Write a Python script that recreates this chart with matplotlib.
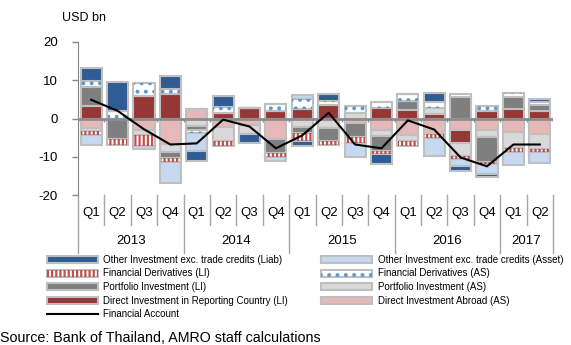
import numpy as np
import matplotlib
matplotlib.use("Agg")
import matplotlib.pyplot as plt
from matplotlib.patches import Patch
from matplotlib.lines import Line2D
from matplotlib.legend_handler import HandlerTuple
import matplotlib.transforms as mtransforms

plt.rcParams['font.family'] = ['Liberation Sans', 'DejaVu Sans']
plt.rcParams['hatch.linewidth'] = 1.6
plt.rcParams['axes.unicode_minus'] = False

quarters = ["Q1", "Q2", "Q3", "Q4"] * 4 + ["Q1", "Q2"]
years = ["2013", "2014", "2015", "2016", "2017"]
year_spans = [4, 4, 4, 4, 2]

# Components of the financial account, USD bn
di_as = [-2.4, 0.0, -3.0, -6.6, 2.6, -2.2, -1.8, -5.4, 0.0, 0.0, -1.2, -3.0, -4.4, -4.0, -2.9, -2.9, -3.4, -4.0]
di_li = [3.2, 0.0, 5.9, 6.3, 0.0, 1.5, 2.7, 1.9, 2.6, 3.5, 0.0, 2.8, 2.3, 1.3, -3.6, 1.9, 2.6, 2.0]
pi_as = [-0.9, 0.0, -1.2, -2.2, -2.0, -3.6, -2.3, 0.0, -2.3, -2.6, 1.4, -1.7, -1.6, 1.5, -3.3, -2.0, -4.4, -3.9]
pi_li = [5.0, -5.3, 0.0, -1.4, -1.1, 0.0, 0.0, -3.7, -1.4, -3.2, -3.6, -3.9, 2.4, 0.0, 5.6, -6.4, 2.9, 1.4]
fd_as = [1.7, 2.0, 3.3, 1.3, -0.7, 1.5, 0.0, 2.0, 2.4, 1.0, 1.8, 1.6, 1.8, 1.5, 0.7, 1.3, 1.1, 0.9]
fd_li = [-1.1, -1.5, -3.0, -1.2, 0.0, -1.3, 0.0, -0.9, -2.2, -1.0, -1.7, -0.8, -1.2, -1.0, -0.9, -0.7, -0.9, -0.8]
oi_asset = [-2.6, 0.0, -0.8, -5.4, -4.6, 0.0, 0.0, -1.0, 1.2, 0.0, -3.6, 0.0, 0.0, -4.8, -1.6, -2.6, -3.5, -3.0]
oi_liab = [3.3, 7.6, 0.0, 3.5, -2.6, 2.8, -2.3, 0.0, -1.3, 1.8, 0.0, -2.4, 0.0, 2.4, -1.3, -0.6, 0.0, 0.9]
financial_account = [4.9, 2.0, -2.8, -6.8, -6.5, -0.3, -2.1, -7.8, -4.4, 1.5, -6.8, -7.8, -0.5, -2.9, -10.2, -12.5, -6.8, -6.8]

EDGE = '#bfbfbf'
series = [
    # (label, values, face, hatch, hatch colour)
    ("Direct Investment Abroad (AS)", di_as, '#e6b9b8', None, None),
    ("Direct Investment in Reporting Country (LI)", di_li, '#953735', None, None),
    ("Portfolio Investment (AS)", pi_as, '#d9d9d9', None, None),
    ("Portfolio Investment (LI)", pi_li, '#7f7f7f', None, None),
    ("Financial Derivatives (AS)", fd_as, '#ffffff', '..', '#5b9bd5'),
    ("Financial Derivatives (LI)", fd_li, '#ffffff', '||||', '#c0504d'),
    ("Other Investment exc. trade credits (Asset)", oi_asset, '#c6d9f1', None, None),
    ("Other Investment exc. trade credits (Liab)", oi_liab, '#2f5c94', None, None),
]

fig = plt.figure(figsize=(5.71, 3.45), dpi=100)
W, H = 571, 345
ax = fig.add_axes([78 / W, 1 - 195 / H, (553 - 78) / W, (195 - 42) / H])

n = len(quarters)
x = np.arange(n)
pos = np.zeros(n)
neg = np.zeros(n)
bw = 0.8
handles = {}
for label, vals, face, hatch, hcol in series:
    v = np.array(vals)
    bottom = np.where(v >= 0, pos, neg)
    ax.bar(x, v, bw, bottom=bottom, color=face, edgecolor=EDGE, linewidth=1.5, zorder=2)
    if hatch:
        ax.bar(x, v, bw * 0.93, bottom=bottom, color='none', edgecolor=hcol,
               hatch=hatch, linewidth=0, zorder=3)
        handles[label] = (Patch(facecolor=face, edgecolor=EDGE, linewidth=1.5),
                          Patch(facecolor='none', edgecolor=hcol, hatch=hatch, linewidth=0))
    else:
        handles[label] = Patch(facecolor=face, edgecolor=EDGE, linewidth=1.5)
    pos = pos + np.where(v > 0, v, 0)
    neg = neg + np.where(v < 0, v, 0)

ax.plot(x, financial_account, color='black', linewidth=1.5, zorder=5)
handles["Financial Account"] = Line2D([], [], color='black', linewidth=1.5)

ax.set_xlim(-0.5, n - 0.5)
ax.set_ylim(-20, 20)
ax.set_yticks([-20, -10, 0, 10, 20])
ax.tick_params(axis='y', direction='out', length=4, color='#868686', width=1,
               labelsize=9.5, pad=10.5)
ax.set_xticks([])
for s in ['top', 'right', 'bottom']:
    ax.spines[s].set_visible(False)
ax.spines['left'].set_color('#868686')

# category axis at zero with boundary ticks
ax.axhline(0, color='#8c8c8c', linewidth=2, zorder=4)
ax.vlines(np.arange(n + 1) - 0.5, 0, -0.9, color='#8c8c8c', linewidth=1, zorder=4)

# two-level category labels beneath the plot
trans = mtransforms.blended_transform_factory(ax.transData, ax.transAxes)
yq = (195 - 213) / 153
yy = (195 - 241) / 153
ysep_q = (195 - 225) / 153
ysep_y = (195 - 253) / 153
for i, q in enumerate(quarters):
    ax.text(i, yq, q, transform=trans, ha='center', va='center', fontsize=9.5)
year_edges = np.concatenate([[0], np.cumsum(year_spans)]) - 0.5
for b in np.arange(n + 1) - 0.5:
    is_year = np.any(np.isclose(year_edges, b))
    ax.plot([b, b], [0, ysep_y if is_year else ysep_q], transform=trans,
            color='#a6a6a6', linewidth=1, clip_on=False)
for yr, a, b in zip(years, year_edges[:-1], year_edges[1:]):
    ax.text((a + b) / 2, yy, yr, transform=trans, ha='center', va='center', fontsize=9.5)

fig.text(62 / W, 1 - 18 / H, "USD bn", fontsize=9, ha='left', va='center')

order = [
    "Other Investment exc. trade credits (Liab)",
    "Financial Derivatives (LI)",
    "Portfolio Investment (LI)",
    "Direct Investment in Reporting Country (LI)",
    "Financial Account",
    "Other Investment exc. trade credits (Asset)",
    "Financial Derivatives (AS)",
    "Portfolio Investment (AS)",
    "Direct Investment Abroad (AS)",
]
leg = fig.legend([handles[k] for k in order], order, ncol=2, frameon=False,
                 loc='upper left', bbox_to_anchor=(47 / W, 1 - 255 / H),
                 fontsize=7, handlelength=5.2, handleheight=0.7,
                 handletextpad=0.6, labelspacing=0.36, columnspacing=3.4,
                 borderpad=0, borderaxespad=0,
                 handler_map={tuple: HandlerTuple(ndivide=1, pad=0)})

fig.text(0, 1 - 338 / H, "Source: Bank of Thailand, AMRO staff calculations",
         fontsize=10.3, ha='left', va='center')

fig.savefig("out.png", dpi=100)
